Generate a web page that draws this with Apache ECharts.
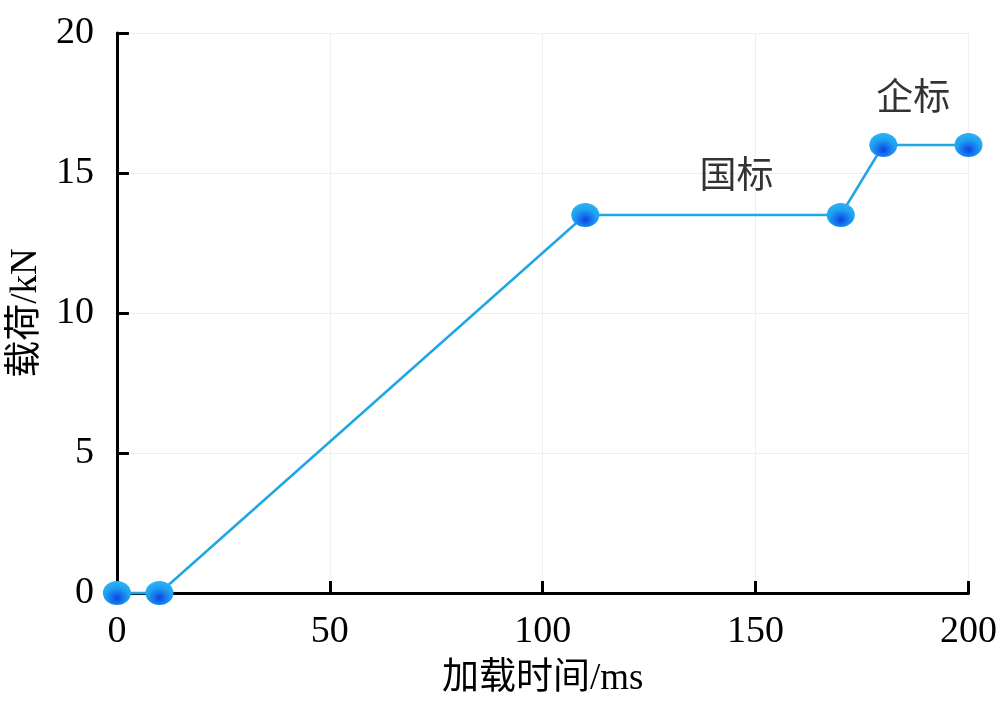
<!DOCTYPE html>
<html>
<head>
<meta charset="utf-8">
<script src="https://cdn.jsdelivr.net/npm/echarts@6/dist/echarts.min.js"></script>
<style>
  html, body { margin: 0; padding: 0; background: #fff; }
  #chart { width: 1000px; height: 703px; }
</style>
</head>
<body>
<div id="chart"></div>
<script>
// 加载时间 (ms) / 载荷 (kN)
const timeMs = [0, 10, 110, 170, 180, 200]
const loadKN = [0, 0, 13.5, 13.5, 16, 16]
// 文字标注
const noteNames = ['国标', '企标']
const noteTime = [145.5, 187]
const noteLoad = [14.8, 17.6]

const numFont = '"Liberation Serif", "Times New Roman", serif'
const cjkFont = '"Liberation Serif", "Noto Sans CJK SC", serif'

const chart = echarts.init(document.getElementById('chart'))
chart.setOption({
  backgroundColor: '#fff',
  animation: false,
  grid: { left: 116, right: 30, top: 33, bottom: 110 },
  xAxis: {
    type: 'value',
    min: 0,
    max: 200,
    interval: 50,
    name: '加载时间/ms',
    nameLocation: 'middle',
    nameGap: 68,
    nameTextStyle: { color: '#000', fontSize: 37, fontFamily: cjkFont },
    axisLine: { lineStyle: { color: '#000', width: 3 } },
    axisTick: { inside: true, length: 12, lineStyle: { color: '#000', width: 3 } },
    axisLabel: { color: '#000', fontSize: 38, fontFamily: numFont, margin: 20 },
    splitLine: { show: true, lineStyle: { color: '#efefef', width: 1 } }
  },
  yAxis: {
    type: 'value',
    min: 0,
    max: 20,
    interval: 5,
    name: '载荷/kN',
    nameLocation: 'middle',
    nameGap: 68,
    nameTextStyle: { color: '#000', fontSize: 37, fontFamily: cjkFont },
    axisLine: { show: true, lineStyle: { color: '#000', width: 3 } },
    axisTick: { show: true, inside: true, length: 12, lineStyle: { color: '#000', width: 3 } },
    axisLabel: { color: '#000', fontSize: 38, fontFamily: numFont, margin: 23 },
    splitLine: { show: true, lineStyle: { color: '#efefef', width: 1 } }
  },
  series: [
    {
      type: 'line',
      data: timeMs.map((t, i) => [t, loadKN[i]]),
      symbol: 'circle',
      symbolSize: [28, 24],
      clip: false,
      lineStyle: { color: '#1fa6e4', width: 2.5 },
      itemStyle: {
        color: new echarts.graphic.RadialGradient(0.5, 0.7, 0.65, [
          { offset: 0, color: '#0a45e2' },
          { offset: 0.3, color: '#1570ec' },
          { offset: 0.65, color: '#1ea0f0' },
          { offset: 1, color: '#2cb0f5' }
        ])
      },
      z: 3
    },
    {
      type: 'scatter',
      data: noteNames.map((n, i) => ({ name: n, value: [noteTime[i], noteLoad[i]] })),
      symbolSize: 0,
      label: {
        show: true,
        position: 'inside',
        formatter: '{b}',
        color: '#000',
        fontSize: 37,
        fontFamily: cjkFont
      },
      z: 4
    }
  ]
})
</script>
</body>
</html>
